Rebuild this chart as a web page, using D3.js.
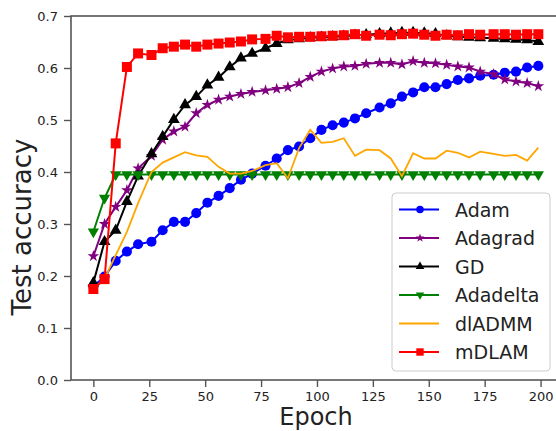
<!DOCTYPE html>
<html>
<head>
<meta charset="utf-8">
<script src="https://cdn.jsdelivr.net/npm/d3@7"></script>
<style>
  body { margin: 0; background: #fff; }
  text { font-family: "DejaVu Sans", sans-serif; fill: #222; }
</style>
</head>
<body>
<svg id="chart" width="556" height="431"></svg>
<script>
// values
const epochs = [0, 5, 10, 15, 20, 26, 31, 36, 41, 46, 51, 56, 61, 66, 71, 77, 82, 87, 92, 97,
  102, 107, 112, 117, 122, 128, 133, 138, 143, 148, 153, 158, 163, 168, 173, 179, 184, 189, 194, 199];

const adam = [0.180, 0.199, 0.229, 0.247, 0.261, 0.266, 0.288, 0.304, 0.304, 0.321,
  0.341, 0.354, 0.369, 0.385, 0.397, 0.412, 0.426, 0.442, 0.449, 0.465,
  0.481, 0.490, 0.495, 0.503, 0.513, 0.524, 0.532, 0.545, 0.553, 0.563,
  0.563, 0.569, 0.577, 0.580, 0.585, 0.587, 0.591, 0.593, 0.601, 0.604];

const adagrad = [0.238, 0.300, 0.333, 0.365, 0.407, 0.431, 0.462, 0.478, 0.487, 0.513,
  0.529, 0.539, 0.545, 0.550, 0.554, 0.557, 0.560, 0.563, 0.571, 0.583,
  0.593, 0.599, 0.603, 0.604, 0.608, 0.610, 0.610, 0.607, 0.613, 0.610,
  0.609, 0.606, 0.603, 0.601, 0.593, 0.588, 0.578, 0.574, 0.571, 0.565];

const gd = [0.187, 0.266, 0.288, 0.343, 0.392, 0.435, 0.468, 0.501, 0.529, 0.545,
  0.567, 0.582, 0.602, 0.619, 0.628, 0.638, 0.647, 0.654, 0.656, 0.658,
  0.659, 0.660, 0.661, 0.663, 0.664, 0.666, 0.667, 0.668, 0.668, 0.667,
  0.666, 0.662, 0.660, 0.659, 0.658, 0.657, 0.656, 0.655, 0.654, 0.651];

const adadelta = [0.285, 0.350, 0.395, 0.395, 0.395, 0.395, 0.395, 0.395, 0.395, 0.395,
  0.395, 0.395, 0.395, 0.395, 0.395, 0.395, 0.395, 0.395, 0.395, 0.395,
  0.395, 0.395, 0.395, 0.395, 0.395, 0.395, 0.395, 0.395, 0.395, 0.395,
  0.395, 0.395, 0.395, 0.395, 0.395, 0.395, 0.395, 0.395, 0.395, 0.395];

const dladmm = [0.175, 0.195, 0.240, 0.285, 0.340, 0.400, 0.418, 0.428, 0.438, 0.432,
  0.429, 0.410, 0.397, 0.397, 0.402, 0.413, 0.417, 0.388, 0.446, 0.481,
  0.456, 0.458, 0.465, 0.431, 0.443, 0.442, 0.426, 0.392, 0.436, 0.426,
  0.426, 0.441, 0.437, 0.428, 0.439, 0.435, 0.431, 0.433, 0.422, 0.447];

const mdlam = [0.175, 0.194, 0.455, 0.602, 0.628, 0.625, 0.638, 0.641, 0.645, 0.641,
  0.645, 0.647, 0.649, 0.651, 0.655, 0.656, 0.662, 0.659, 0.660, 0.660,
  0.661, 0.662, 0.663, 0.665, 0.662, 0.664, 0.663, 0.665, 0.666, 0.664,
  0.662, 0.664, 0.663, 0.665, 0.664, 0.665, 0.665, 0.664, 0.665, 0.665];

const xTicks = [0, 25, 50, 75, 100, 125, 150, 175, 200];
const yTicks = [0.0, 0.1, 0.2, 0.3, 0.4, 0.5, 0.6, 0.7];

const series = [
  {name: 'Adam', values: adam, color: 'blue', symbol: d3.symbolCircle, size: 80},
  {name: 'Adagrad', values: adagrad, color: 'purple', symbol: d3.symbolStar, size: 42},
  {name: 'GD', values: gd, color: 'black', symbol: d3.symbolTriangle, size: 60},
  {name: 'Adadelta', values: adadelta, color: 'green', symbol: d3.symbolTriangle, size: 55, flip: true},
  {name: 'dlADMM', values: dladmm, color: 'orange', symbol: null},
  {name: 'mDLAM', values: mdlam, color: 'red', symbol: d3.symbolSquare, size: 100},
];

const svg = d3.select('#chart');
const plotLeft = 71, plotTop = 16, plotBottom = 380;

const x = d3.scaleLinear().domain([-10, 209]).range([plotLeft, plotLeft + 219 * 2.236]);
const y = d3.scaleLinear().domain([0, 0.7]).range([plotBottom, plotTop]);

// axes
const xAxis = svg.append('g')
  .attr('transform', 'translate(0,' + plotBottom + ')')
  .call(d3.axisBottom(x).tickValues(xTicks).tickSize(7).tickPadding(5).tickSizeOuter(0));
const yAxis = svg.append('g')
  .attr('transform', 'translate(' + plotLeft + ',0)')
  .call(d3.axisLeft(y).tickValues(yTicks).tickFormat(d3.format('.1f')).tickSize(7).tickPadding(6).tickSizeOuter(0));

[xAxis, yAxis].forEach(g => {
  g.select('.domain').remove();
  g.selectAll('.tick line').attr('stroke', '#555').attr('stroke-width', 1.4);
  g.selectAll('.tick text').style('font-size', '13px').attr('fill', '#222');
});

// frame
svg.append('rect')
  .attr('x', plotLeft).attr('y', plotTop)
  .attr('width', x.range()[1] - plotLeft).attr('height', plotBottom - plotTop)
  .attr('fill', 'none').attr('stroke', '#555').attr('stroke-width', 1.6);

const line = d3.line()
  .x((d, i) => x(epochs[i]))
  .y(d => y(d));

series.forEach(s => {
  svg.append('path')
    .datum(s.values)
    .attr('fill', 'none')
    .attr('stroke', s.color)
    .attr('stroke-width', s.symbol ? 2 : 1.8)
    .attr('d', line);

  if (s.symbol) {
    svg.append('g').selectAll('path')
      .data(s.values)
      .join('path')
      .attr('d', d3.symbol().type(s.symbol).size(s.size))
      .attr('transform', (d, i) => 'translate(' + x(epochs[i]) + ',' + y(d) + ')' + (s.flip ? ' rotate(180)' : ''))
      .attr('fill', s.color);
  }
});

// axis labels
svg.append('text')
  .attr('x', 316).attr('y', 425)
  .attr('text-anchor', 'middle')
  .style('font-size', '24px')
  .text('Epoch');

svg.append('text')
  .attr('transform', 'translate(31,227) rotate(-90)')
  .attr('text-anchor', 'middle')
  .style('font-size', '26px')
  .text('Test accuracy');

// legend
const legend = svg.append('g').attr('transform', 'translate(392,193)');
legend.append('rect')
  .attr('width', 158).attr('height', 178).attr('rx', 4)
  .attr('fill', 'white').attr('fill-opacity', 0.8)
  .attr('stroke', '#ccc').attr('stroke-width', 1);

series.forEach((s, i) => {
  const row = legend.append('g').attr('transform', 'translate(0,' + (16.5 + i * 28.5) + ')');
  row.append('line')
    .attr('x1', 7).attr('x2', 47)
    .attr('stroke', s.color).attr('stroke-width', 2);
  if (s.symbol) {
    row.append('path')
      .attr('d', d3.symbol().type(s.symbol).size(s.size * 0.55))
      .attr('transform', 'translate(28,0)' + (s.flip ? ' rotate(180)' : ''))
      .attr('fill', s.color);
  }
  row.append('text')
    .attr('x', 63).attr('y', 7)
    .style('font-size', '19px')
    .text(s.name);
});
</script>
</body>
</html>
